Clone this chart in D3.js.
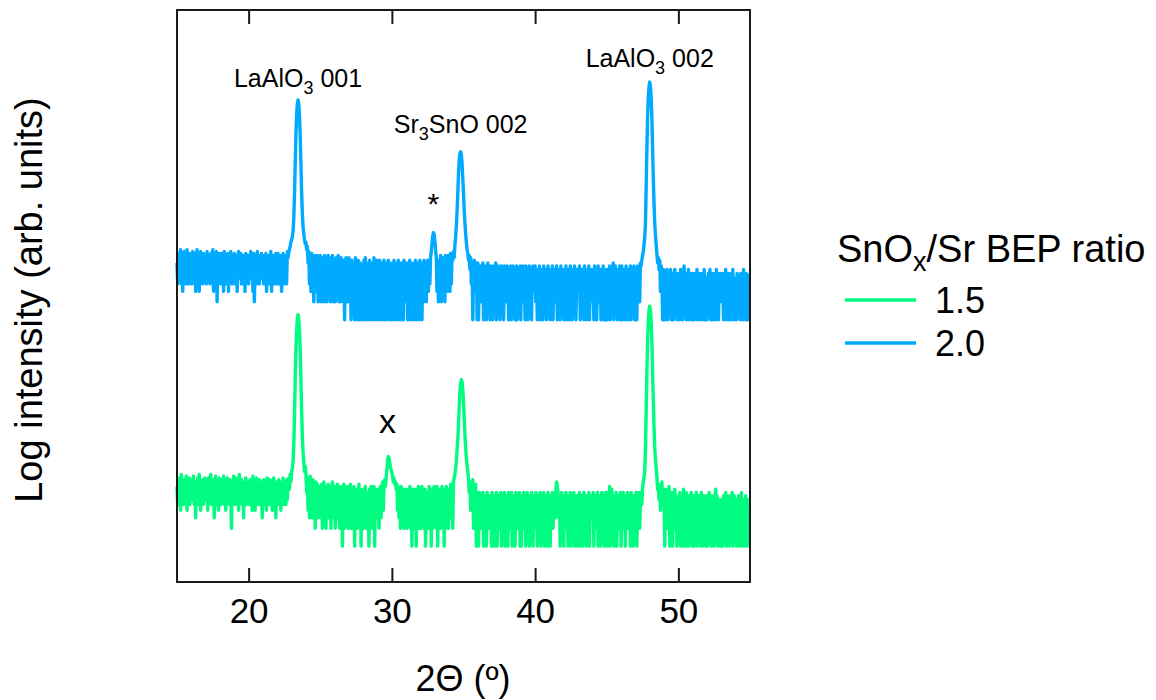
<!DOCTYPE html>
<html>
<head>
<meta charset="utf-8">
<script src="https://cdn.jsdelivr.net/npm/d3@7"></script>
<style>
  body { margin: 0; background: #fff; }
  svg { font-family: Arial, "Liberation Sans", Helvetica, sans-serif; }
</style>
</head>
<body>
<svg id="chart" width="1156" height="700"></svg>
<script>
// XRD 2θ scans, counts per step. One row per degree, 20 steps of 0.05°.
const scanStart = 15;
const scanStep = 0.05;

// SnOx/Sr BEP ratio 1.5
const countsRatio15 = [
  [10,5,14,6,12,4,16,7,11,5,13,6,9,15,4,12,6,14,5,11],
  [13,6,10,15,5,12,3,11,6,14,5,16,9,4,12,6,13,5,11,14],
  [6,12,9,4,14,6,11,16,5,12,7,13,3,9,15,5,11,12,4,14],
  [10,5,13,6,11,15,5,12,4,10,14,6,11,5,13,9,2,12,6,15],
  [11,5,14,6,10,12,4,16,6,11,13,5,10,3,12,6,14,5,11,9],
  [12,5,13,6,11,4,15,6,12,4,10,14,5,11,6,13,5,12,9,3],
  [9,13,5,10,12,4,14,6,11,5,13,9,12,4,6,14,5,11,3,12],
  [10,5,13,6,11,4,12,6,14,5,12,9,5,13,6,11,14,9,16,12],
  [18,20,26,48,140,600,1900,4200,6500,7670,6500,4200,1900,620,190,70,38,26,18,22],
  [16,8,14,4,12,3,15,6,11,3,13,4,10,2,12,5,11,3,10,4],
  [9,3,11,2,8,12,3,10,2,9,4,11,3,8,10,2,9,12,3,8],
  [10,2,9,3,11,4,8,2,10,3,9,1,8,11,2,7,9,3,10,2],
  [8,3,11,2,6,9,2,10,1,8,3,9,2,7,11,3,8,1,9,3],
  [2,9,3,10,2,8,3,7,1,9,2,10,3,8,2,10,1,9,3,8],
  [3,9,2,8,10,3,9,12,4,11,13,10,14,19,27,32,30,25,21,19],
  [17,15,12,14,11,12,9,11,4,10,3,9,2,10,8,3,9,2,8,3],
  [9,2,8,3,7,10,2,8,1,9,3,8,2,9,1,7,3,10,2,8],
  [9,2,10,3,8,2,9,1,8,3,7,2,10,3,8,1,9,2,7,10],
  [3,9,2,10,1,8,3,9,2,7,10,3,8,1,9,2,10,3,8,2],
  [9,3,11,4,10,2,12,14,16,20,26,40,60,110,220,380,540,620,570,430],
  [260,140,75,45,30,23,18,14,8,12,4,10,7,13,2,9,6,11,1,8],
  [6,1,8,3,7,2,5,8,1,6,4,7,1,8,3,6,2,7,5,1],
  [8,2,6,1,7,4,8,1,5,7,2,6,8,1,4,7,3,8,1,6],
  [3,7,1,8,5,2,6,8,1,7,3,6,1,8,4,7,2,5,8,1],
  [7,1,6,4,8,2,7,1,5,8,3,6,1,7,2,8,4,1,6,7],
  [2,8,5,1,7,3,6,8,1,4,7,2,8,1,6,5,7,1,8,3],
  [6,1,7,4,8,2,5,7,3,9,12,10,8,3,7,1,5,8,2,6],
  [1,7,3,8,2,6,1,7,5,8,1,4,7,2,8,1,6,3,7,1],
  [7,2,8,1,6,4,7,1,8,3,5,7,1,6,2,8,1,7,4,6],
  [3,8,1,6,7,2,5,8,1,7,3,6,1,8,2,7,4,1,8,5],
  [8,1,6,3,10,1,8,9,5,7,1,6,4,8,1,7,3,6,2,8],
  [1,7,3,8,2,6,1,7,4,8,2,5,7,1,8,3,6,1,7,2],
  [6,8,1,7,3,8,2,6,8,5,9,12,14,18,40,180,800,2700,5900,9100],
  [10700,9100,5900,2700,850,270,100,45,28,20,15,9,11,6,10,4,8,12,5,9],
  [7,1,9,4,8,2,6,10,1,7,5,8,1,6,3,9,2,7,1,5],
  [6,2,8,1,5,7,1,9,3,6,1,8,4,5,1,7,2,6,8,1],
  [5,7,1,6,3,8,1,5,7,2,6,1,8,4,5,1,7,3,6,1],
  [7,1,5,8,2,6,1,7,4,5,1,6,9,2,7,1,5,3,6,1],
  [4,6,1,7,2,5,8,1,6,3,7,1,5,6,2,8,1,5,7,2],
  [6,1,5,3,7,1,6,4,8,1,5,2,6,1,7,3,5,1,6,4]
];

// SnOx/Sr BEP ratio 2.0
const countsRatio20 = [
  [9,4,13,5,11,15,4,12,3,10,14,5,12,4,15,5,11,4,13,6],
  [12,4,14,5,10,13,3,11,15,4,12,3,10,14,5,11,4,13,5,12],
  [10,4,14,5,12,9,4,13,5,11,15,3,10,12,4,14,2,11,5,13],
  [11,4,13,5,12,3,14,10,4,12,5,13,3,11,5,14,10,4,12,5],
  [13,4,10,12,3,11,14,5,9,13,4,6,12,4,11,3,13,5,10,12],
  [4,12,10,14,5,11,3,13,2,10,12,4,14,5,11,4,12,5,13,10],
  [12,4,11,5,13,3,10,12,4,11,5,14,3,10,12,4,11,5,13,4],
  [10,13,4,11,5,12,3,10,13,4,11,5,12,4,14,11,13,15,17,20],
  [22,25,30,50,120,400,1250,2700,4200,4900,4200,2700,1250,420,140,60,36,28,22,19],
  [20,15,17,9,14,4,12,3,13,5,11,2,12,4,10,3,12,2,11,3],
  [12,2,10,3,11,2,12,4,9,2,10,12,3,9,2,11,3,12,2,10],
  [9,2,11,3,8,12,2,10,2,11,3,9,2,10,1,8,11,2,9,2],
  [11,2,9,1,10,2,8,3,1,11,2,9,1,10,2,1,9,2,8,1],
  [2,10,1,11,2,9,1,8,2,10,1,9,2,8,1,11,2,9,1,10],
  [2,8,1,10,2,9,1,8,2,10,1,9,2,8,1,10,2,9,1,8],
  [1,9,2,10,1,8,2,9,1,10,2,8,1,9,2,8,1,10,2,9],
  [2,9,1,8,2,10,1,9,2,8,1,9,2,10,1,8,2,9,1,10],
  [2,9,1,8,2,10,3,9,2,8,10,3,9,4,11,14,19,25,29,27],
  [21,15,11,3,9,2,10,3,12,2,9,11,3,10,2,12,9,3,10,12],
  [8,3,13,4,12,10,14,11,18,25,38,65,130,280,480,620,660,600,420,240],
  [130,70,42,28,20,15,13,10,12,7,11,4,9,1,8,10,3,7,9,1],
  [9,1,7,4,8,2,6,9,1,7,3,8,1,6,9,2,7,1,8,5],
  [7,1,8,3,6,9,1,7,2,8,5,1,7,8,2,6,1,8,4,7],
  [2,8,6,1,7,3,8,1,6,8,2,7,1,5,8,1,7,3,6,8],
  [1,7,4,8,2,6,1,8,5,7,1,6,8,2,7,1,5,8,3,6],
  [8,2,6,1,7,4,8,1,6,3,7,1,8,5,2,7,1,6,8,3],
  [6,1,7,3,8,1,5,7,2,6,8,1,7,4,6,1,8,2,7,5],
  [1,7,5,8,1,6,3,7,1,8,4,6,1,7,2,8,5,1,6,7],
  [7,3,8,1,6,2,7,5,1,8,3,6,1,7,4,8,1,6,2,7],
  [2,6,1,8,4,7,1,6,8,2,5,7,1,6,3,8,1,7,5,1],
  [7,1,6,3,8,1,7,2,6,9,1,5,8,2,7,1,6,4,8,1],
  [6,8,1,7,2,6,1,8,3,7,1,6,5,8,1,7,2,6,8,1],
  [5,7,1,8,3,6,2,9,8,10,12,14,18,24,40,160,720,2450,5400,8300],
  [9770,8300,5400,2450,750,240,90,42,26,18,13,9,11,7,10,3,8,6,1,7],
  [5,1,6,3,7,1,5,6,2,7,1,4,6,1,5,7,2,6,1,5],
  [4,6,1,7,2,5,1,6,8,3,5,1,6,2,7,1,5,4,6,1],
  [6,1,5,3,6,1,7,2,5,1,6,4,5,1,6,2,7,1,5,3],
  [1,5,6,2,7,1,4,6,1,5,3,6,1,7,2,5,1,6,4,5],
  [6,2,5,1,6,3,7,1,5,4,6,1,5,2,6,1,7,3,5,1],
  [5,1,6,2,5,4,1,6,3,5,1,7,2,5,1,6,4,1,5,6]
];

// vertical stacking factor applied to the 2.0 scan on the log axis
const stackFactor = 6310;

const xTicks = [20, 30, 40, 50];

const peakLabels = [
  { angle: 23.45, parts: [["LaAlO"], ["3", "sub"], [" 001"]], baseline: 87 },
  { angle: 34.8,  parts: [["Sr"], ["3", "sub"], ["SnO 002"]], baseline: 133 },
  { angle: 48.0,  parts: [["LaAlO"], ["3", "sub"], [" 002"]], baseline: 67 }
];
const markers = [
  { angle: 32.9, text: "*", baseline: 214, size: 30 },
  { angle: 29.7, text: "x", baseline: 433, size: 34 }
];

const seriesList = [
  { name: "1.5", color: "#00fc80", rows: countsRatio15, factor: 1 },
  { name: "2.0", color: "#00aaff", rows: countsRatio20, factor: stackFactor }
];

const svg = d3.select("#chart");
const plot = { left: 177, right: 750, top: 10, bottom: 582 };

const x = d3.scaleLinear().domain([15, 55]).range([plot.left, plot.right]);
const y = d3.scaleLog().domain([0.25, 1e9]).range([plot.bottom, plot.top]);

function toPoints(rows, factor) {
  return rows.flatMap((row, d) =>
    row.map((c, i) => ({ angle: scanStart + d + i * scanStep, value: c * factor })));
}

const line = d3.line()
  .x(p => x(p.angle))
  .y(p => y(p.value));

// traces
seriesList.forEach(s => {
  svg.append("path")
    .datum(toPoints(s.rows, s.factor))
    .attr("fill", "none")
    .attr("stroke", s.color)
    .attr("stroke-width", 3.4)
    .attr("stroke-linejoin", "round")
    .attr("d", line);
});

// frame
svg.append("rect")
  .attr("x", plot.left).attr("y", plot.top)
  .attr("width", plot.right - plot.left).attr("height", plot.bottom - plot.top)
  .attr("fill", "none").attr("stroke", "#1a1a1a").attr("stroke-width", 2);

const bottomAxis = svg.append("g")
  .attr("transform", `translate(0,${plot.bottom})`)
  .call(d3.axisBottom(x).tickValues(xTicks).tickSizeInner(-14).tickSizeOuter(0).tickPadding(16));
const topAxis = svg.append("g")
  .attr("transform", `translate(0,${plot.top})`)
  .call(d3.axisTop(x).tickValues(xTicks).tickSizeInner(-14).tickSizeOuter(0).tickFormat(""));

[bottomAxis, topAxis].forEach(g => {
  g.select(".domain").remove();
  g.selectAll(".tick line").attr("stroke", "#1a1a1a").attr("stroke-width", 2);
});
bottomAxis.selectAll(".tick text")
  .attr("font-size", 35).attr("fill", "#000")
  .style("font-family", "Arial, 'Liberation Sans', sans-serif");

// axis titles
svg.append("text")
  .attr("x", (plot.left + plot.right) / 2 - 0.5).attr("y", 691)
  .attr("text-anchor", "middle").attr("font-size", 36)
  .text("2Θ (º)");

svg.append("text")
  .attr("transform", `translate(42,${(plot.top + plot.bottom) / 2 + 4}) rotate(-90)`)
  .attr("text-anchor", "middle").attr("font-size", 38)
  .text("Log intensity (arb. units)");

// peak labels
peakLabels.forEach(l => {
  const t = svg.append("text")
    .attr("x", x(l.angle)).attr("y", l.baseline)
    .attr("text-anchor", "middle").attr("font-size", 25);
  let shift = 0;
  l.parts.forEach(([str, kind]) => {
    const dy = kind === "sub" ? 7 - shift : -shift;
    shift = kind === "sub" ? 7 : 0;
    t.append("tspan").attr("dy", dy)
      .attr("font-size", kind === "sub" ? 18 : 25)
      .text(str);
  });
});

markers.forEach(m => {
  svg.append("text")
    .attr("x", x(m.angle)).attr("y", m.baseline)
    .attr("text-anchor", "middle").attr("font-size", m.size)
    .text(m.text);
});

// legend
const legend = svg.append("g").attr("transform", "translate(837,0)");
const title = legend.append("text").attr("x", 0).attr("y", 262).attr("font-size", 38);
title.append("tspan").text("SnO");
title.append("tspan").attr("dy", 9).attr("font-size", 27).text("x");
title.append("tspan").attr("dy", -9).text("/Sr BEP ratio");

seriesList.forEach((s, i) => {
  const yy = 300 + i * 43;
  legend.append("line")
    .attr("x1", 8).attr("x2", 79).attr("y1", yy).attr("y2", yy)
    .attr("stroke", s.color).attr("stroke-width", 3.4);
  legend.append("text")
    .attr("x", 98).attr("y", yy + 13)
    .attr("font-size", 36)
    .text(s.name);
});
</script>
</body>
</html>
